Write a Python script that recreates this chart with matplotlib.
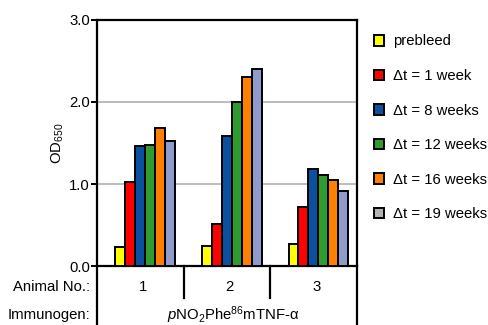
import numpy as np
import matplotlib
matplotlib.use("Agg")
import matplotlib.pyplot as plt
from matplotlib.patches import Patch

plt.rcParams['font.family'] = ['Liberation Sans', 'DejaVu Sans']
plt.rcParams['mathtext.fontset'] = 'custom'
plt.rcParams['mathtext.rm'] = 'Liberation Sans'
plt.rcParams['mathtext.it'] = 'Liberation Sans:italic'

# data
animals = ["1", "2", "3"]
series = ["prebleed", "Δt = 1 week", "Δt = 8 weeks", "Δt = 12 weeks",
          "Δt = 16 weeks", "Δt = 19 weeks"]
prebleed = [0.23, 0.25, 0.27]
wk1 = [1.03, 0.51, 0.72]
wk8 = [1.46, 1.59, 1.18]
wk12 = [1.48, 2.00, 1.11]
wk16 = [1.68, 2.30, 1.05]
wk19 = [1.52, 2.40, 0.92]
values = [prebleed, wk1, wk8, wk12, wk16, wk19]

bar_colors = ["#ffff00", "#ff0000", "#0b4f9f", "#2f9c2f", "#ff8000", "#8f9bcb"]
legend_colors = ["#ffff00", "#ff0000", "#0b4f9f", "#2f9c2f", "#ff8000", "#b3b3b3"]

fs = 10.7
fig = plt.figure(figsize=(4.89, 3.25), dpi=100)
ax = fig.add_axes([0.1984, 0.1815, 0.5316, 0.757])

w = 0.115
start = 0.21
for k, vals in enumerate(values):
    x = np.arange(3) + start + w * (k + 0.5)
    ax.bar(x, vals, width=w, color=bar_colors[k], edgecolor="black",
           linewidth=1.4, zorder=3)

ax.set_xlim(0, 3)
ax.set_ylim(0, 3)
ax.set_yticks([0, 1, 2, 3])
ax.set_yticklabels(["0.0", "1.0", "2.0", "3.0"], fontsize=fs)
ax.set_xticks([])
ax.yaxis.grid(True, color="#b0b0b0", linewidth=1.2, zorder=0)
for s in ax.spines.values():
    s.set_linewidth(1.6)
ax.tick_params(axis="y", length=4, width=1.4, direction="out", pad=1)
ax.set_ylabel("OD$_{650}$", fontsize=fs, labelpad=2)

# table below the axis
tr = ax.get_xaxis_transform()
for xv, y0 in [(0, -0.24), (3, -0.24), (1, -0.13), (2, -0.13)]:
    ax.plot([xv, xv], [0, y0], color="black", linewidth=1.6,
            transform=tr, clip_on=False)

for i, a in enumerate(animals):
    ax.text(i + 0.53, -0.085, a, transform=tr, ha="center", va="center",
            fontsize=fs)
ax.text(-0.08, -0.085, "Animal No.:", transform=tr, ha="right",
        va="center", fontsize=fs)
ax.text(-0.08, -0.2, "Immunogen:", transform=tr, ha="right",
        va="center", fontsize=fs)
ax.text(1.57, -0.2, r"$\it{p}$NO$_2$Phe$^{86}$mTNF-α", transform=tr,
        ha="center", va="center", fontsize=fs)

handles = [Patch(facecolor=c, edgecolor="black", linewidth=1.4)
           for c in legend_colors]
fig.legend(handles, series, loc="upper left", bbox_to_anchor=(0.737, 0.935),
           frameon=False, fontsize=fs, handlelength=0.7, handleheight=0.7,
           handletextpad=0.6, labelspacing=1.38)

fig.savefig("out.png", dpi=100)
